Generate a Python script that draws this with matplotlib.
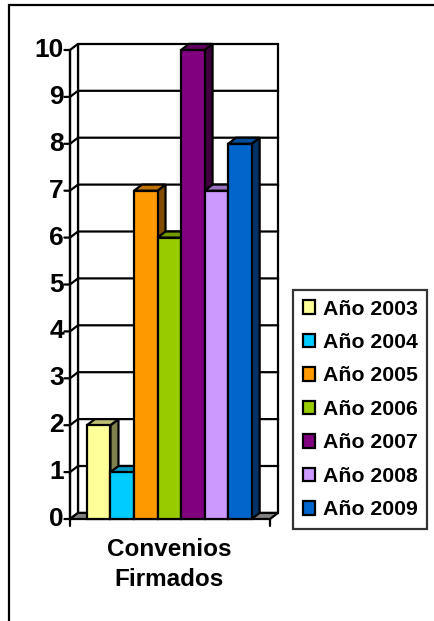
import matplotlib
matplotlib.use("Agg")
import matplotlib.pyplot as plt
from matplotlib.patches import Rectangle, Polygon
from matplotlib.colors import to_rgb

# --- data ---
years = ["Año 2003", "Año 2004", "Año 2005", "Año 2006", "Año 2007", "Año 2008", "Año 2009"]
convenios = [2, 1, 7, 6, 10, 7, 8]
colors = ["#FFFF99", "#00CCFF", "#FF9900", "#99CC00", "#800080", "#CC99FF", "#0066CC"]
category = "Convenios\nFirmados"
yticks = list(range(0, 11))

plt.rcParams['font.family'] = ['Liberation Sans', 'DejaVu Sans']
plt.rcParams['font.weight'] = 'bold'

W, H = 434, 621
fig = plt.figure(figsize=(W / 100, H / 100), dpi=100)

# front plane of the 3D box: x 70..270 px, y 519 (0) .. 50 (10)
ax = fig.add_axes([70 / W, 1 - 519 / H, 200 / W, 469 / H])
x0, x1 = -0.72, len(convenios) + 0.78
ax.set_xlim(x0, x1)
ax.set_ylim(0, 10)
ax.axis('off')

dx, dy = 0.34, 0.13   # depth offset (data units)
lw = 1.6

def shade(c, f):
    r, g, b = to_rgb(c)
    return (r * f, g * f, b * f)

# back wall
ax.add_patch(Rectangle((x0 + dx, dy), x1 - x0, 10, facecolor='white',
                       edgecolor='black', lw=lw, clip_on=False, zorder=1))
# left wall
ax.add_patch(Polygon([(x0, 0), (x0 + dx, dy), (x0 + dx, 10 + dy), (x0, 10)],
                     closed=True, facecolor='white', edgecolor='black',
                     lw=lw, clip_on=False, zorder=1))
# gridlines
for v in yticks[1:-1]:
    ax.plot([x0, x0 + dx, x1 + dx], [v, v + dy, v + dy], color='black',
            lw=lw, clip_on=False, zorder=2)
# floor
ax.add_patch(Polygon([(x0, 0), (x1, 0), (x1 + dx, dy), (x0 + dx, dy)],
                     closed=True, facecolor='#808080', edgecolor='black',
                     lw=lw, clip_on=False, zorder=2))

# front value axis with ticks
ax.plot([x0, x0], [0, 10], color='black', lw=lw, clip_on=False, zorder=3)
for v in yticks:
    ax.annotate('', xy=(x0, v), xytext=(-4, 0), textcoords='offset points',
                arrowprops=dict(arrowstyle='-', lw=lw, color='black',
                                shrinkA=0, shrinkB=0))
    ax.annotate(str(v), xy=(x0, v), xytext=(-4.5, 0), textcoords='offset points',
                ha='right', va='center', fontsize=19, fontweight='bold')
# category axis end ticks
for xe in (x0, x1):
    ax.annotate('', xy=(xe, 0), xytext=(0, -5), textcoords='offset points',
                arrowprops=dict(arrowstyle='-', lw=lw, color='black',
                                shrinkA=0, shrinkB=0))

# 3D bars
for i, (v, c) in enumerate(zip(convenios, colors)):
    z = 5 + i
    ax.add_patch(Polygon([(i + 1, 0), (i + 1 + dx, dy), (i + 1 + dx, v + dy), (i + 1, v)],
                         closed=True, facecolor=shade(c, 0.5), edgecolor='black',
                         lw=lw, clip_on=False, zorder=z))
    ax.add_patch(Polygon([(i, v), (i + 1, v), (i + 1 + dx, v + dy), (i + dx, v + dy)],
                         closed=True, facecolor=shade(c, 0.75), edgecolor='black',
                         lw=lw, clip_on=False, zorder=z))
    ax.bar(i, v, width=1, align='edge', color=c, edgecolor='black', lw=lw,
           clip_on=False, zorder=z + 0.5, label=years[i])

# category label
ax.text((len(convenios)) / 2, -0.4, category, ha='center', va='top',
        fontsize=17.5, fontweight='bold', linespacing=1.4)

# legend
leg = fig.legend(loc='upper left', bbox_to_anchor=(293 / W, 1 - 290 / H),
                 fontsize=15.3, frameon=True, fancybox=False, borderpad=0.45,
                 handlelength=0.6, handleheight=0.6, handletextpad=0.35,
                 labelspacing=0.68, borderaxespad=0)
leg.get_frame().set_edgecolor('black')
leg.get_frame().set_linewidth(lw)
for t in leg.get_texts():
    t.set_fontweight('bold')

# outer chart border
fig.add_artist(Rectangle((9 / W, -0.1), 1.2, 1 - 5 / H + 0.1, transform=fig.transFigure,
                         facecolor='none', edgecolor='black', lw=lw))

fig.savefig('out.png', dpi=100)
